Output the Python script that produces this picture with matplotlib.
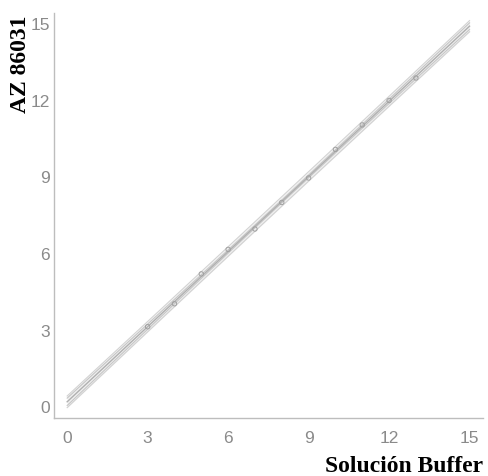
import numpy as np
import matplotlib
matplotlib.use("Agg")
import matplotlib.pyplot as plt

# Data
x_vals = [3, 4, 5, 6, 7, 8, 9, 10, 11, 12, 13]
y_vals = [3.15, 4.05, 5.22, 6.18, 6.98, 8.02, 8.98, 10.10, 11.06, 12.02, 12.90]
ticks = [0, 3, 6, 9, 12, 15]
x_label = "Solución Buffer"
y_label = "AZ 86031"

tick_font = "Liberation Sans"

xa = np.array(x_vals, float)
ya = np.array(y_vals, float)
n = len(xa)
b, a = np.polyfit(xa, ya, 1)
res = ya - (a + b * xa)
s = np.sqrt(np.sum(res**2) / (n - 2))
xm = xa.mean()
sxx = np.sum((xa - xm) ** 2)
xx = np.linspace(0, 15, 200)
yy = a + b * xx
t = 2.26
ci = t * s * np.sqrt(1 / n + (xx - xm) ** 2 / sxx)
pi = t * s * np.sqrt(1 + 1 / n + (xx - xm) ** 2 / sxx)

fig = plt.figure(figsize=(4.88, 4.76), dpi=100)
ax = fig.add_axes([0.1107, 0.1218, 0.879, 0.851])

ax.fill_between(xx, yy - pi, yy + pi, color="#f0f0f0", lw=0)
for off, c in [(pi, "#d2d2d2"), (ci, "#c6c6c6")]:
    ax.plot(xx, yy + off, color=c, lw=0.8)
    ax.plot(xx, yy - off, color=c, lw=0.8)
ax.plot(xx, yy, color="#b0b0b0", lw=1.0)
ax.scatter(xa, ya, s=10, facecolors="none", edgecolors="#a0a0a0", linewidths=0.7, zorder=3)

ax.set_xlim(-0.49, 15.5)
ax.set_ylim(-0.43, 15.45)
ax.set_xticks(ticks)
ax.set_yticks(ticks)
for sp in ["top", "right"]:
    ax.spines[sp].set_visible(False)
for sp in ["left", "bottom"]:
    ax.spines[sp].set_color("#bdbdbd")
    ax.spines[sp].set_linewidth(1.0)
ax.tick_params(length=0, labelsize=12.5, labelcolor="#8a8a8a")
ax.tick_params(axis="x", pad=9)
ax.tick_params(axis="y", pad=3)
for lab in ax.get_xticklabels() + ax.get_yticklabels():
    lab.set_family(tick_font)

fig.text(0.99, 4 / 476, x_label, ha="right", va="baseline", fontsize=17,
         fontweight="bold", family="Liberation Serif")
fig.text(0.043, 0.968, y_label, ha="center", va="top", rotation=90, fontsize=17,
         fontweight="bold", family="Liberation Serif")

fig.savefig("out.png", dpi=100)
